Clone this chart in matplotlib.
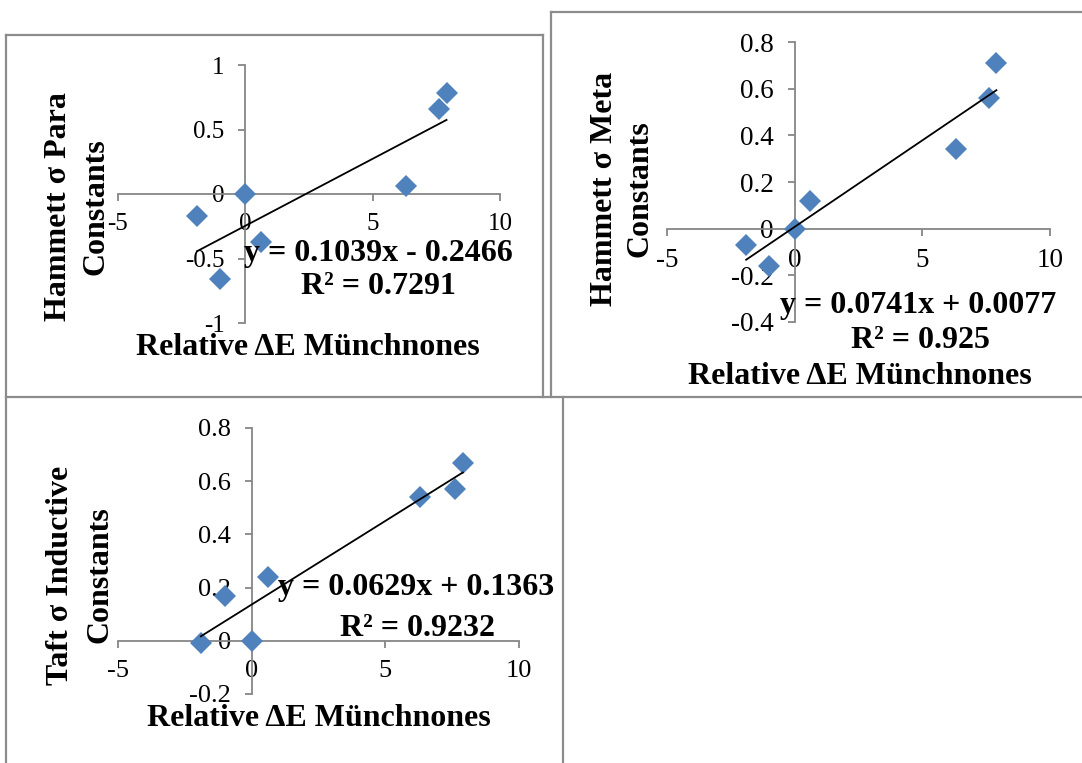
import numpy as np
import matplotlib
matplotlib.use("Agg")
import matplotlib.pyplot as plt
from matplotlib.lines import Line2D

# relative delta E of the muenchnones (same x for all three plots)
rel_dE = [-1.9, -1.0, 0.0, 0.6, 6.3, 7.6, 7.9]
sigma_para = [-0.17, -0.66, 0.0, -0.37, 0.06, 0.66, 0.78]
sigma_meta = [-0.07, -0.16, 0.0, 0.12, 0.34, 0.56, 0.71]
sigma_taft = [-0.01, 0.17, 0.0, 0.24, 0.54, 0.57, 0.67]

W, H = 1082, 763
plt.rcParams['font.family'] = ['Liberation Serif', 'DejaVu Serif']
fig = plt.figure(figsize=(W / 100, H / 100), dpi=100)

gray = '#868686'
blue = '#4F81BD'
big = 23


def px(x, y):
    # pixel coords -> figure fraction
    return x / W, 1 - y / H


def scatter_panel(rect, ys, ylim, yticks, tsize, ylabel, eq, eq_xy, r2_xy, xl_xy, yl_x, yl_y):
    l, t, r, b = rect
    ax = fig.add_axes([l / W, 1 - b / H, (r - l) / W, (b - t) / H])
    ax.patch.set_alpha(0)
    ax.set_xlim(-5, 10)
    ax.set_ylim(*ylim)
    ax.spines['left'].set_position(('data', 0))
    ax.spines['bottom'].set_position(('data', 0))
    ax.spines['top'].set_visible(False)
    ax.spines['right'].set_visible(False)
    for s in ('left', 'bottom'):
        ax.spines[s].set_color(gray)
        ax.spines[s].set_linewidth(1.3)
    ax.set_xticks([-5, 0, 5, 10])
    ax.set_xticklabels(['-5', '0', '5', '10'])
    ax.set_yticks(yticks)
    ax.set_yticklabels([('%g' % v) for v in yticks])
    ax.tick_params(axis='both', colors=gray, labelcolor='black', labelsize=tsize,
                   length=5, width=1.3, direction='out')
    ax.tick_params(axis='x', pad=9)
    ax.tick_params(axis='y', pad=10)

    ax.plot(rel_dE, ys, 'D', color=blue, markersize=11, markeredgewidth=0, zorder=3)
    k, c = np.polyfit(rel_dE, ys, 1)
    xs = np.array([min(rel_dE), max(rel_dE)])
    ax.plot(xs, k * xs + c, color='black', linewidth=1.3, zorder=4)

    fig.text(*px(*eq_xy), eq[0], ha='center', va='center', fontsize=big, fontweight='bold')
    fig.text(*px(*r2_xy), eq[1], ha='center', va='center', fontsize=big, fontweight='bold')
    fig.text(*px(*xl_xy), 'Relative ΔE Münchnones', ha='center', va='center',
             fontsize=big, fontweight='bold')
    fig.text(*px(yl_x[0], yl_y), ylabel[0], ha='center', va='center', rotation=90,
             fontsize=big, fontweight='bold')
    fig.text(*px(yl_x[1], yl_y), ylabel[1], ha='center', va='center', rotation=90,
             fontsize=big, fontweight='bold')
    return ax


scatter_panel((118, 65, 500, 323), sigma_para, (-1, 1), [-1, -0.5, 0, 0.5, 1], 18,
              ('Hammett σ Para', 'Constants'),
              ('y = 0.1039x - 0.2466', 'R² = 0.7291'),
              (378, 253), (378, 287), (308, 347), (59, 96), 207)

scatter_panel((667, 42, 1050, 322), sigma_meta, (-0.4, 0.8),
              [-0.4, -0.2, 0, 0.2, 0.4, 0.6, 0.8], 19.5,
              ('Hammett σ Meta', 'Constants'),
              ('y = 0.0741x + 0.0077', 'R² = 0.925'),
              (918, 306), (920, 340), (860, 376), (604, 640), 189)

scatter_panel((118, 428, 519, 694), sigma_taft, (-0.2, 0.8),
              [-0.2, 0, 0.2, 0.4, 0.6, 0.8], 19,
              ('Taft σ Inductive', 'Constants'),
              ('y = 0.0629x + 0.1363', 'R² = 0.9232'),
              (416, 588), (417, 628), (319, 718), (60, 100), 575)

# table style borders around the panels
border = dict(color='#8c8c8c', linewidth=1.6, transform=fig.transFigure)
segs = [
    ((6, 35), (543, 35)), ((6, 35), (6, 763)), ((543, 35), (543, 397)),
    ((551, 12), (1082, 12)), ((551, 12), (551, 397)),
    ((6, 397), (1082, 397)), ((563, 397), (563, 763)),
]
for (x0, y0), (x1, y1) in segs:
    a, b = px(x0, y0)
    c, d = px(x1, y1)
    fig.add_artist(Line2D([a, c], [b, d], **border))

fig.savefig('out.png', dpi=100)
